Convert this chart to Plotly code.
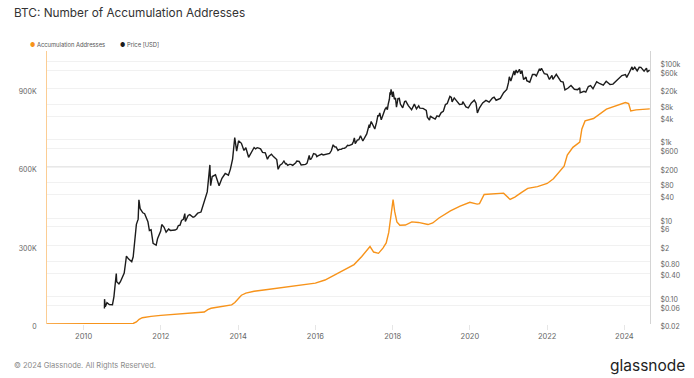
import plotly.graph_objects as go

# ---------------- data ----------------
acc_dates = [
    "2009-01-20", "2010-06-01", "2011-01-01", "2011-04-15", "2011-05-15", "2011-06-10",
    "2011-07-10", "2011-08-15", "2011-10-01", "2012-01-01", "2012-06-01", "2012-12-01",
    "2013-02-15", "2013-03-20", "2013-04-20", "2013-06-01", "2013-09-01", "2013-11-01",
    "2013-12-01", "2014-01-01", "2014-02-01", "2014-03-15", "2014-06-01", "2014-09-01",
    "2015-01-01", "2015-06-01", "2016-01-01", "2016-04-01", "2016-07-01", "2016-10-01",
    "2017-01-01", "2017-03-15", "2017-05-10", "2017-06-01", "2017-07-05", "2017-08-20",
    "2017-10-01", "2017-11-01", "2017-11-25", "2017-12-15", "2018-01-05", "2018-01-20",
    "2018-02-10", "2018-03-10", "2018-05-01", "2018-07-01", "2018-09-01", "2018-12-01",
    "2019-01-15", "2019-03-15", "2019-05-15", "2019-07-01", "2019-10-01", "2020-01-01",
    "2020-03-10", "2020-04-01", "2020-05-15", "2020-08-01", "2020-11-15", "2021-01-15",
    "2021-03-01", "2021-05-01", "2021-07-01", "2021-10-01", "2022-01-01", "2022-03-01",
    "2022-05-01", "2022-06-10", "2022-07-10", "2022-09-01", "2022-11-05", "2022-11-25",
    "2022-12-25", "2023-03-15", "2023-07-15", "2023-10-15", "2024-01-10", "2024-02-10",
    "2024-03-01", "2024-04-20", "2024-08-28",
]
acc_values = [
    0, 0, 500, 2000, 8000, 18000,
    24000, 27000, 29000, 33000, 37000, 42000,
    46000, 55000, 60000, 63000, 68000, 73000,
    82000, 98000, 110000, 118000, 125000, 130000,
    136000, 143000, 156000, 168000, 188000, 206000,
    227000, 258000, 285000, 296000, 275000, 270000,
    290000, 310000, 350000, 420000, 475000, 430000,
    390000, 377000, 378000, 390000, 388000, 380000,
    386000, 405000, 420000, 432000, 450000, 465000,
    458000, 460000, 495000, 497000, 500000, 476000,
    485000, 502000, 518000, 525000, 537000, 555000,
    584000, 603000, 645000, 675000, 695000, 745000,
    776000, 785000, 821000, 833000, 846000, 842000,
    814000, 818000, 822000,
]

price_dates = [
    # 2010
    "2010-07-17", "2010-07-18", "2010-07-25", "2010-08-10", "2010-09-01", "2010-10-01",
    "2010-10-15", "2010-10-28", "2010-11-06", "2010-11-10", "2010-12-01", "2010-12-15",
    # 2011
    "2011-01-01", "2011-01-20", "2011-02-01", "2011-02-10", "2011-03-01", "2011-04-01",
    "2011-04-15", "2011-05-01", "2011-05-15", "2011-06-01", "2011-06-08", "2011-06-20",
    "2011-07-01", "2011-07-15", "2011-08-01", "2011-08-15", "2011-09-01", "2011-09-15",
    "2011-10-01", "2011-10-20", "2011-11-18", "2011-12-01", "2011-12-31",
    # 2012
    "2012-01-10", "2012-01-25", "2012-02-01", "2012-02-20", "2012-03-01", "2012-03-15",
    "2012-04-01", "2012-04-15", "2012-05-01", "2012-05-15", "2012-06-01", "2012-06-15",
    "2012-07-01", "2012-07-15", "2012-08-01", "2012-08-15", "2012-08-20", "2012-09-15",
    "2012-10-01", "2012-10-15", "2012-11-01", "2012-11-15", "2012-12-01", "2012-12-15",
    # 2013
    "2013-01-15", "2013-02-15", "2013-03-15", "2013-04-09", "2013-04-16", "2013-05-01",
    "2013-06-01", "2013-07-05", "2013-08-01", "2013-09-01", "2013-10-01", "2013-10-20",
    "2013-11-10", "2013-11-30", "2013-12-18",
    # 2014
    "2014-01-05", "2014-02-01", "2014-02-25", "2014-03-15", "2014-04-10", "2014-05-01",
    "2014-06-01", "2014-06-15", "2014-07-01", "2014-07-15", "2014-08-01", "2014-08-20",
    "2014-09-01", "2014-09-15", "2014-10-05", "2014-10-20", "2014-11-12", "2014-11-25",
    "2014-12-01",
    # 2015
    "2015-01-01", "2015-01-14", "2015-02-01", "2015-02-20", "2015-03-10", "2015-03-25",
    "2015-04-01", "2015-04-15", "2015-05-01", "2015-05-15", "2015-06-01", "2015-06-15",
    "2015-06-30", "2015-07-10", "2015-07-25", "2015-08-01", "2015-08-20", "2015-09-15",
    "2015-10-01", "2015-10-15", "2015-11-04", "2015-11-12", "2015-11-20", "2015-12-01",
    "2015-12-15",
    # 2016
    "2016-01-05", "2016-01-15", "2016-01-25", "2016-02-15", "2016-03-01", "2016-03-15",
    "2016-04-15", "2016-05-01", "2016-05-15", "2016-06-01", "2016-06-17", "2016-07-01",
    "2016-07-15", "2016-08-02", "2016-08-15", "2016-09-01", "2016-09-15", "2016-10-01",
    "2016-10-15", "2016-11-01", "2016-11-15", "2016-12-01", "2016-12-15", "2016-12-25",
    # 2017
    "2017-01-04", "2017-01-12", "2017-02-01", "2017-02-15", "2017-03-03", "2017-03-25",
    "2017-04-15", "2017-05-01", "2017-05-24", "2017-05-27", "2017-06-12", "2017-06-25",
    "2017-07-16", "2017-08-01", "2017-08-15", "2017-08-22", "2017-09-01", "2017-09-15",
    "2017-10-01", "2017-10-20", "2017-11-01", "2017-11-12", "2017-11-20", "2017-12-01",
    "2017-12-07", "2017-12-10", "2017-12-17", "2017-12-22", "2017-12-30",
    # 2018
    "2018-01-06", "2018-01-17", "2018-01-28", "2018-02-06", "2018-02-20", "2018-03-05",
    "2018-03-15", "2018-03-31", "2018-04-06", "2018-04-24", "2018-05-05", "2018-05-29",
    "2018-06-29", "2018-07-25", "2018-08-14", "2018-09-04", "2018-09-15", "2018-10-15",
    "2018-11-15", "2018-11-25", "2018-12-15", "2018-12-24",
    # 2019
    "2019-01-01", "2019-02-07", "2019-02-24", "2019-03-15", "2019-04-05", "2019-04-25",
    "2019-05-15", "2019-06-01", "2019-06-26", "2019-07-10", "2019-07-17", "2019-08-06",
    "2019-08-28", "2019-09-01", "2019-09-25", "2019-10-20", "2019-10-26", "2019-11-25",
    "2019-12-17",
    # 2020
    "2020-01-15", "2020-02-12", "2020-02-28", "2020-03-12", "2020-04-01", "2020-04-29",
    "2020-05-01", "2020-06-01", "2020-07-01", "2020-08-01", "2020-08-17", "2020-09-05",
    "2020-10-15", "2020-11-15", "2020-12-15", "2020-12-31",
    # 2021
    "2021-01-08", "2021-01-22", "2021-02-10", "2021-02-21", "2021-02-28", "2021-03-13",
    "2021-03-25", "2021-04-14", "2021-04-25", "2021-05-08", "2021-05-12", "2021-05-23",
    "2021-06-15", "2021-06-22", "2021-07-20", "2021-08-15", "2021-09-07", "2021-09-20",
    "2021-10-20", "2021-10-28", "2021-11-08", "2021-11-26", "2021-12-05",
    # 2022
    "2022-01-01", "2022-01-22", "2022-02-15", "2022-02-24", "2022-03-28", "2022-04-15",
    "2022-05-10", "2022-06-01", "2022-06-18", "2022-07-15", "2022-08-14", "2022-09-15",
    "2022-10-15", "2022-11-05", "2022-11-09", "2022-12-15",
    # 2023
    "2023-01-01", "2023-01-25", "2023-02-15", "2023-03-10", "2023-04-14", "2023-05-15",
    "2023-06-15", "2023-07-13", "2023-08-18", "2023-09-15", "2023-10-24", "2023-11-15",
    "2023-12-08",
    # 2024
    "2024-01-11", "2024-01-23", "2024-02-15", "2024-03-13", "2024-03-20", "2024-04-08",
    "2024-05-01", "2024-05-20", "2024-06-05", "2024-07-05", "2024-07-28", "2024-08-05",
    "2024-08-20", "2024-08-28",
]
price_values = [
    # 2010
    0.05, 0.086, 0.055, 0.07, 0.063, 0.062,
    0.10, 0.19, 0.39, 0.24, 0.21, 0.24,
    # 2011
    0.30, 0.40, 0.70, 1.08, 0.92, 0.78,
    1.04, 3.5, 7.0, 9.5, 29.6, 17.5,
    15.4, 13.8, 13.1, 11.0, 8.2, 4.9,
    5.1, 2.3, 2.05, 3.0, 4.7,
    # 2012
    6.9, 6.0, 5.9, 4.4, 4.9, 5.3,
    4.9, 4.95, 5.1, 5.0, 5.3, 6.5,
    6.7, 8.8, 9.4, 13.2, 8.3, 11.8,
    12.4, 11.8, 10.6, 11.0, 12.6, 13.5,
    # 2013
    14.4, 27.0, 47, 230, 68, 116,
    129, 68, 105, 139, 126, 180,
    330, 1150, 520,
    # 2014
    950, 820, 540, 630, 360, 450,
    640, 590, 635, 620, 590, 480,
    480, 470, 320, 385, 430, 375,
    375,
    # 2015
    315, 178, 225, 245, 290, 245,
    250, 225, 237, 238, 225, 240,
    262, 290, 290, 282, 230, 230,
    238, 255, 400, 320, 325, 360,
    450,
    # 2016
    430, 375, 390, 405, 435, 415,
    430, 450, 455, 535, 750, 670,
    660, 540, 575, 575, 610, 615,
    640, 730, 715, 750, 780, 900,
    # 2017
    1130, 800, 985, 1010, 1280, 940,
    1190, 1420, 2450, 2050, 2950, 2550,
    1900, 2750, 4300, 4000, 4900, 3250,
    4400, 6000, 6700, 5900, 8200, 10900,
    16500, 14000, 19500, 13800, 12500,
    # 2018
    17100, 11000, 11700, 6900, 11400, 11500,
    8250, 6900, 6600, 9600, 9800, 7500,
    5900, 8200, 6200, 7400, 6500, 6400,
    5700, 3800, 3200, 4100,
    # 2019
    3850, 3400, 4100, 3950, 5000, 5400,
    8000, 8500, 12900, 12100, 9400, 11800,
    9700, 9600, 8000, 8200, 9500, 7000,
    6600,
    # 2020
    8800, 10350, 8700, 4900, 6600, 8800,
    8800, 10200, 9200, 11700, 12300, 10300,
    11500, 16000, 19400, 29000,
    # 2021
    40800, 32000, 44800, 57500, 45200, 61200,
    51300, 63500, 49000, 58800, 49000, 34700,
    40200, 32500, 29800, 47000, 46800, 43000,
    65000, 58500, 67500, 54000, 49000,
    # 2022
    47000, 35000, 44500, 35000, 47100, 40500,
    31000, 30000, 19000, 20800, 24400, 19700,
    19200, 21300, 15900, 17400,
    # 2023
    16600, 23000, 24300, 20200, 30500, 27200,
    25100, 31400, 26100, 26600, 34500, 37800,
    44000,
    # 2024
    46600, 39500, 51900, 73000, 62000, 71600,
    58000, 71400, 71000, 56700, 68200, 54000,
    59300, 59000,
]
assert len(price_dates) == len(price_values)
assert len(acc_dates) == len(acc_values)

left_tickvals = [0, 300000, 600000, 900000]
left_ticktext = ["0", "300K", "600K", "900K"]
right_tickvals = [0.02, 0.06, 0.10, 0.40, 0.80, 2, 6, 10, 40, 80, 200, 600, 1000,
                  4000, 8000, 20000, 60000, 100000]
right_ticktext = ["$0.02", "$0.06", "$0.10", "$0.40", "$0.80", "$2", "$6", "$10", "$40",
                  "$80", "$200", "$600", "$1k", "$4k", "$8k", "$20k", "$60k", "$100k"]
x_tickvals = ["2010-01-01", "2012-01-01", "2014-01-01", "2016-01-01", "2018-01-01",
              "2020-01-01", "2022-01-01", "2024-01-01"]
x_ticktext = ["2010", "2012", "2014", "2016", "2018", "2020", "2022", "2024"]

ORANGE = "#f7931a"
DARK = "#1c1c1c"
FONT = "Inter"

fig = go.Figure()
fig.add_trace(go.Scatter(x=acc_dates, y=acc_values, mode="lines", name="Accumulation Addresses",
                         line=dict(color=ORANGE, width=1.4), yaxis="y", showlegend=False))
fig.add_trace(go.Scatter(x=price_dates, y=price_values, mode="lines", name="Price [USD]",
                         line=dict(color=DARK, width=1.4), yaxis="y2", showlegend=False))

fig.update_layout(
    width=694, height=378,
    margin=dict(l=47, r=44, t=51, b=54, pad=0),
    paper_bgcolor="white", plot_bgcolor="white",
    font=dict(family=FONT, size=7, color="#666666"),
    xaxis=dict(type="date", range=["2009-01-20", "2024-08-30"],
               tickvals=x_tickvals, ticktext=x_ticktext,
               showgrid=False, zeroline=False, showline=False,
               ticks="outside", ticklen=5, tickcolor="#e6e6e6", tickwidth=1,
               tickfont=dict(size=7.5, color="#666666")),
    yaxis=dict(range=[0, 1043000], tickvals=left_tickvals, ticktext=left_ticktext,
               showgrid=True, gridcolor="#e8e8e8", gridwidth=1, zeroline=False,
               showline=True, linecolor="#fbcd94", linewidth=1,
               ticks="", ticklabelstandoff=8, ticklabelshift=3,
               tickfont=dict(size=7, color="#666666")),
    yaxis2=dict(type="log", overlaying="y", side="right",
                range=[-1.699, 5.27], tickvals=right_tickvals, ticktext=right_ticktext,
                showgrid=True, gridcolor="#f1f1f1", gridwidth=1, zeroline=False,
                showline=True, linecolor="#d4d4d4", linewidth=1,
                ticks="", ticklabelstandoff=8, ticklabelshift=3,
                tickfont=dict(size=7, color="#666666")),
    showlegend=False,
)

annotations = [
    dict(text="BTC: Number of Accumulation Addresses", x=12, y=12.5,
         xanchor="left", font=dict(family=FONT, size=11.8, color="#333333")),
    dict(text=f"<span style='color:{ORANGE}'>●</span> Accumulation Addresses", x=28, y=44.5,
         xanchor="left", font=dict(family=FONT, size=5.8, color="#555555")),
    dict(text=f"<span style='color:{DARK}'>●</span> Price [USD]", x=118, y=44.5,
         xanchor="left", font=dict(family=FONT, size=5.8, color="#555555")),
    dict(text="© 2024 Glassnode. All Rights Reserved.", x=12, y=365.5,
         xanchor="left", font=dict(family=FONT, size=7.5, color="#8a8a8a")),
    dict(text="glassnode", x=687, y=365, xanchor="right",
         font=dict(family=FONT, size=15.5, color="#222222")),
]
# convert pixel positions to paper coordinates
pw, ph = 694 - 47 - 44, 378 - 51 - 54
for a in annotations:
    a["xref"] = "paper"
    a["yref"] = "paper"
    a["showarrow"] = False
    a["yanchor"] = "middle"
    a["x"] = (a["x"] - 47) / pw
    a["y"] = (378 - 54 - a["y"]) / ph
fig.update_layout(annotations=annotations)

fig.write_html("out.html", config={"displayModeBar": False},
               post_script="document.body.style.margin='0';")
